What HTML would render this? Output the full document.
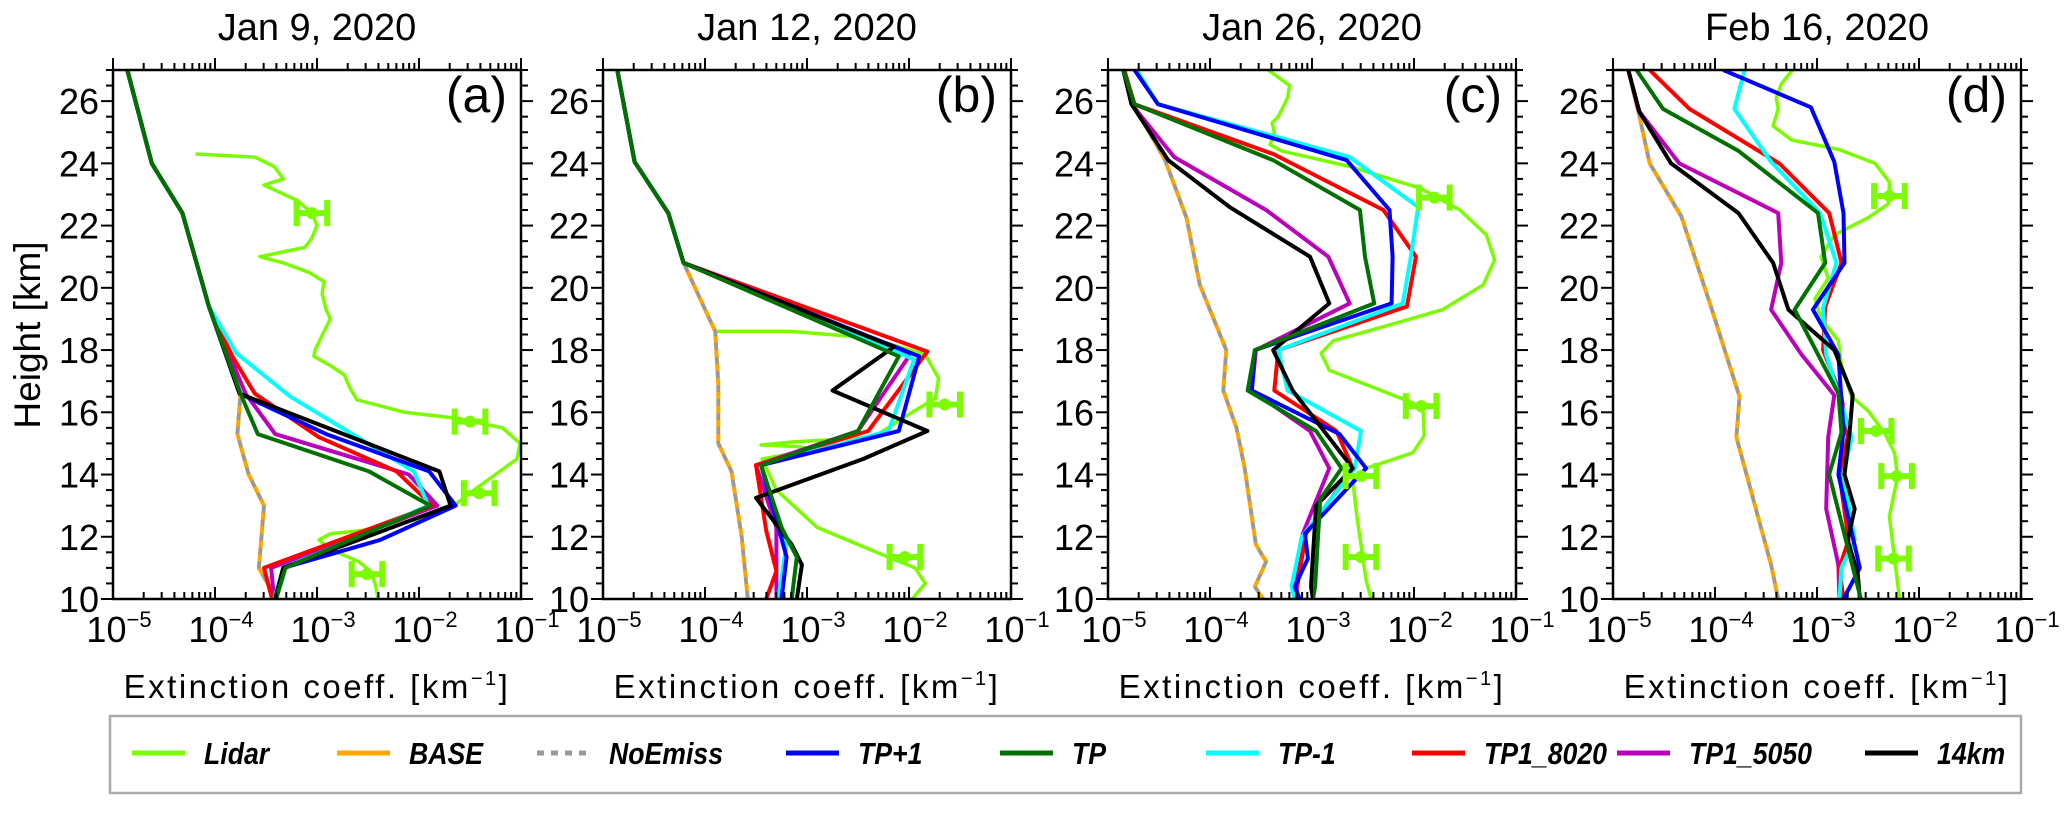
<!DOCTYPE html>
<html><head><meta charset="utf-8">
<style>
html,body{margin:0;padding:0;background:#fff;}
svg{display:block;font-family:"Liberation Sans",Arial,sans-serif;}
</style></head>
<body>
<svg id="chart" width="2067" height="813" viewBox="0 0 2067 813" xmlns="http://www.w3.org/2000/svg"></svg>
<script>
// ---- data (height km, log10 extinction) ----
const panelTitles = ["Jan 9, 2020","Jan 12, 2020","Jan 26, 2020","Feb 16, 2020"];
const panelLetters = ["(a)","(b)","(c)","(d)"];
const seriesNames = ["Lidar","BASE","NoEmiss","TP+1","TP","TP-1","TP1_8020","TP1_5050","14km"];
const seriesColors = ["#7cfc00","#ffa500","#999999","#0000ff","#007000","#00ffff","#ff0000","#bb00bb","#000000"];
const yTicks = [10,12,14,16,18,20,22,24,26];
const xTickExp = [-5,-4,-3,-2,-1];

const topA = [[27,-4.86],[24,-4.62],[22.4,-4.32],[19.4,-4.06]];
const lidarA = [[24.3,-4.19],[24.2,-3.61],[23.9,-3.42],[23.5,-3.33],[23.3,-3.52],[22.8,-3.19],[22.4,-3.05],[22,-3.0],[21.6,-3.05],[21.3,-3.12],[21.0,-3.56],[20.8,-3.33],[20.5,-3.08],[20.2,-2.93],[19.8,-2.95],[19.3,-2.91],[19.0,-2.87],[18.6,-2.93],[18.0,-3.02],[17.8,-3.03],[17.5,-2.87],[17.2,-2.73],[16.8,-2.68],[16.4,-2.61],[16.0,-2.14],[15.8,-1.61],[15.5,-1.18],[15.0,-1.01],[14.5,-1.04],[14.0,-1.25],[13.5,-1.46],[13.0,-1.66],[12.6,-1.96],[12.2,-2.56],[12.1,-2.87],[11.9,-2.98],[11.6,-2.87],[11.2,-2.59],[10.9,-2.48],[10.5,-2.43],[10,-2.40]];
const errA = [[22.4,-3.05],[15.7,-1.5],[13.4,-1.41],[10.8,-2.51]];
const baseA = topA.concat([[16.6,-3.75],[15.3,-3.78],[14.0,-3.67],[13.0,-3.52],[11.0,-3.57],[10,-3.40]]);
const tpp1A = topA.concat([[16.6,-3.76],[15.3,-2.91],[14.1,-1.90],[13.0,-1.64],[11.9,-2.38],[11.0,-3.33],[10,-3.41]]);
const tpA = topA.concat([[16.6,-3.75],[15.3,-3.58],[14.1,-2.49],[13.0,-1.89],[11.0,-3.31],[10,-3.40]]);
const tpm1A = topA.concat([[17.9,-3.79],[16.5,-3.26],[14.1,-2.05],[13.0,-1.91],[12.1,-2.52],[11.0,-3.33],[10,-3.42]]);
const t8020A = topA.concat([[17.8,-3.83],[16.6,-3.61],[15.2,-2.98],[14.1,-2.22],[13.0,-1.87],[11.0,-3.52],[10,-3.44]]);
const t5050A = topA.concat([[16.6,-3.70],[15.3,-3.41],[14.0,-2.10],[13.0,-1.82],[11.0,-3.45],[10,-3.42]]);
const km14A = topA.concat([[16.6,-3.76],[14.1,-1.80],[13.0,-1.69],[11.0,-3.33],[10,-3.41]]);

const topB = [[27,-4.86],[24.05,-4.69],[22.4,-4.36],[20.8,-4.21]];
const lidarB = [[18.6,-3.9],[18.6,-3.16],[18.4,-2.4],[17.85,-1.84],[17.1,-1.71],[16.45,-1.74],[16.0,-1.97],[15.2,-2.35],[15.05,-3.13],[14.95,-3.45],[14.9,-3.1],[14.8,-2.9],[14.7,-3.1],[14.5,-3.44],[13.5,-3.3],[12.3,-2.9],[11.45,-2.28],[11.0,-1.94],[10.5,-1.84],[10,-1.97]];
const errB = [[16.25,-1.65],[11.35,-2.04]];
const baseB = topB.concat([[18.6,-3.9],[16.9,-3.87],[15.0,-3.87],[14.1,-3.74],[12.0,-3.64],[10,-3.58]]);
const tpp1B = topB.concat([[17.8,-1.9],[15.4,-2.1],[14.3,-3.45],[11.35,-3.2],[10,-3.25]]);
const tpB = topB.concat([[17.8,-2.1],[15.4,-2.5],[14.3,-3.45],[12.3,-3.25],[11.35,-3.1],[10,-3.15]]);
const tpm1B = topB.concat([[17.7,-1.95],[15.4,-2.2],[14.3,-3.45],[11.8,-3.2],[10,-3.28]]);
const t8020B = topB.concat([[17.95,-1.82],[15.4,-2.4],[14.3,-3.5],[12.2,-3.4],[10.9,-3.3],[10,-3.4]]);
const t5050B = topB.concat([[17.8,-2.0],[15.4,-2.5],[14.3,-3.5],[12.3,-3.3],[10,-3.3]]);
const km14B = topB.concat([[18.1,-2.15],[16.7,-2.75],[15.4,-1.82],[14.5,-2.45],[13.25,-3.5],[11.75,-3.15],[11.1,-3.05],[10,-3.1]]);

const lidarC = [[27,-3.43],[26.5,-3.22],[26.1,-3.24],[25.5,-3.33],[25.3,-3.39],[25.0,-3.37],[24.6,-3.41],[24.4,-3.3],[23.9,-2.63],[23.2,-1.94],[22.5,-1.55],[21.7,-1.29],[20.9,-1.21],[20.1,-1.32],[19.3,-1.72],[18.75,-2.30],[18.3,-2.79],[17.9,-2.91],[17.35,-2.83],[16.8,-2.40],[16.3,-2.01],[16.0,-1.91],[15.25,-1.90],[14.7,-2.01],[14.2,-2.47],[13.8,-2.60],[12.65,-2.56],[11.3,-2.50],[10.6,-2.47],[10,-2.42]];
const errC = [[22.9,-1.80],[16.2,-1.93],[13.95,-2.52],[11.35,-2.52]];
const baseC = [[27,-4.85],[25.9,-4.75],[24.1,-4.44],[22.25,-4.23],[20.1,-4.10],[18.0,-3.84],[16.7,-3.87],[15.5,-3.74],[14.2,-3.66],[11.75,-3.55],[11.2,-3.45],[10.4,-3.56],[10,-3.48]];
const tpp1C = [[27,-4.74],[25.9,-4.51],[24.1,-2.66],[22.5,-2.24],[21.0,-2.21],[19.5,-2.22],[18.0,-3.56],[16.7,-3.59],[15.3,-2.73],[14.2,-2.47],[12.1,-3.07],[11.3,-3.04],[10.4,-3.17],[10,-3.12]];
const tpC = [[27,-4.85],[25.9,-4.74],[24.1,-3.38],[22.5,-2.53],[21.0,-2.48],[19.5,-2.39],[18.0,-3.56],[16.7,-3.63],[15.4,-2.96],[14.2,-2.71],[13.2,-2.92],[10.4,-2.97],[10,-2.99]];
const tpm1C = [[27,-4.72],[25.9,-4.51],[24.2,-2.63],[22.6,-1.96],[21.0,-2.03],[19.5,-2.11],[18.0,-3.33],[16.7,-3.24],[15.4,-2.52],[14.2,-2.58],[12.0,-3.10],[10.4,-3.20],[10,-3.17]];
const t8020C = [[27,-4.84],[25.9,-4.74],[24.3,-3.38],[22.5,-2.30],[21.0,-1.98],[19.4,-2.07],[18.0,-3.33],[16.7,-3.37],[15.4,-2.76],[14.2,-2.60],[12.1,-3.06],[10.3,-3.15],[10,-3.14]];
const t5050C = [[27,-4.85],[25.9,-4.77],[24.2,-4.35],[22.5,-3.45],[21.0,-2.84],[19.5,-2.63],[18.0,-3.55],[16.7,-3.59],[15.4,-3.02],[14.2,-2.83],[12.1,-3.09],[10.4,-3.17],[10,-3.14]];
const km14C = [[27,-4.85],[25.9,-4.77],[24.1,-4.41],[22.6,-3.81],[21.0,-3.02],[19.5,-2.83],[18.0,-3.38],[16.7,-3.19],[14.2,-2.60],[13.0,-2.96],[10.4,-3.01],[10,-2.99]];

const lidarD = [[27,-3.24],[26.55,-3.35],[26.1,-3.40],[25.75,-3.38],[25.2,-3.43],[24.75,-3.25],[24.45,-2.79],[24.0,-2.43],[23.4,-2.29],[22.7,-2.30],[22.25,-2.50],[21.7,-2.83],[21.0,-2.96],[20.3,-2.89],[19.65,-3.02],[19.0,-2.96],[18.3,-2.79],[17.5,-2.76],[16.5,-2.66],[16.05,-2.50],[15.35,-2.34],[14.7,-2.24],[13.95,-2.21],[12.65,-2.29],[11.3,-2.24],[10,-2.19]];
const errD = [[22.95,-2.29],[15.4,-2.42],[13.95,-2.22],[11.3,-2.25]];
const baseD = [[27,-4.85],[25.65,-4.75],[24.0,-4.64],[22.3,-4.33],[19.4,-4.04],[16.5,-3.76],[15.2,-3.79],[11.1,-3.45],[10,-3.38]];
const tpp1D = [[27,-3.92],[25.8,-3.06],[24.05,-2.83],[22.4,-2.74],[20.8,-2.73],[19.3,-3.04],[17.85,-2.79],[15.4,-2.74],[14.0,-2.79],[11.0,-2.58],[10,-2.74]];
const tpD = [[27,-4.77],[25.75,-4.51],[24.4,-3.77],[22.4,-2.99],[20.8,-2.92],[19.3,-3.22],[16.6,-2.79],[15.35,-2.76],[14.0,-2.88],[10,-2.57]];
const tpm1D = [[27,-3.71],[25.75,-3.81],[24.05,-3.45],[22.4,-2.97],[20.8,-2.81],[19.35,-2.94],[17.85,-2.91],[15.2,-2.66],[14.0,-2.74],[11.9,-2.63],[11.0,-2.76],[10,-2.78]];
const t8020D = [[27,-4.64],[25.75,-4.25],[24.0,-3.37],[22.4,-2.88],[20.8,-2.76],[19.4,-2.92],[18.0,-2.94],[16.5,-2.76],[15.2,-2.70],[14.0,-2.78],[11.9,-2.69],[11.0,-2.78],[10,-2.74]];
const t5050D = [[27,-4.85],[25.7,-4.75],[24.0,-4.35],[22.4,-3.38],[20.8,-3.35],[19.3,-3.45],[17.85,-3.15],[16.55,-2.83],[15.2,-2.89],[12.9,-2.91],[11.1,-2.79],[10,-2.78]];
const km14D = [[27,-4.85],[25.65,-4.74],[24.0,-4.43],[22.4,-3.77],[20.8,-3.43],[19.3,-3.28],[18.0,-2.83],[16.55,-2.65],[15.35,-2.68],[14.0,-2.73],[12.9,-2.63],[11.9,-2.70],[10.8,-2.60],[10,-2.58]];

const panelSeries = [
  [lidarA,baseA,baseA,tpp1A,tpA,tpm1A,t8020A,t5050A,km14A],
  [lidarB,baseB,baseB,tpp1B,tpB,tpm1B,t8020B,t5050B,km14B],
  [lidarC,baseC,baseC,tpp1C,tpC,tpm1C,t8020C,t5050C,km14C],
  [lidarD,baseD,baseD,tpp1D,tpD,tpm1D,t8020D,t5050D,km14D]
];
const panelErrors = [errA,errB,errC,errD];

// ---- layout ----
const NS = "http://www.w3.org/2000/svg";
const svg = document.getElementById('chart');
const lefts = [113,603,1108,1613];
const PW = 408, PT = 70, PH = 529;
const xMin = -5, xMax = -1, yMin = 10, yMax = 27;
function mk(tag, attrs, parent){const e=document.createElementNS(NS,tag);for(const k in attrs)e.setAttribute(k,attrs[k]);(parent||svg).appendChild(e);return e;}

panelTitles.forEach((title,p)=>{
  const L = lefts[p];
  const xs = v => L + (v - xMin)/(xMax - xMin)*PW;
  const ys = h => PT + (yMax - h)/(yMax - yMin)*PH;
  const g = mk('g',{});
  
  
  const clipId='clip'+p;
  const cp = mk('clipPath',{id:clipId},g);
  mk('rect',{x:L,y:PT,width:PW,height:PH},cp);
  const t = mk('text',{x:L+PW/2,y:40,'text-anchor':'middle','font-size':38},g);
  t.textContent = title;
  
  
  const lt = mk('text',{x:L+PW-14,y:112,'text-anchor':'end','font-size':50},g);
  lt.textContent = panelLetters[p];
  
  
  // series
  const sg = mk('g',{'clip-path':'url(#'+clipId+')'},g);
  const order=[0,1,2,7,6,5,3,8,4];
  order.forEach(si=>{
    const pts = panelSeries[p][si].map(d=>xs(d[1]).toFixed(1)+','+ys(d[0]).toFixed(1)).join(' ');
    const attrs={points:pts,fill:'none',stroke:seriesColors[si],'stroke-width':si===0?3.5:4,'stroke-linejoin':'round'};
    if(si===2){attrs['stroke-dasharray']='7,7';attrs['stroke-width']=3.5;}
    const pl = mk('polyline',attrs,sg);
    
    
  });
  // error bars
  panelErrors[p].forEach(e=>{
    const cx=xs(e[1]), cy=ys(e[0]), x1=xs(e[1]-0.15), x2=xs(e[1]+0.15);
    const eg=mk('g',{stroke:'#7cfc00','stroke-width':6,fill:'#7cfc00'},sg);
    
    
    mk('line',{x1:x1,y1:cy,x2:x2,y2:cy},eg);
    mk('line',{x1:x1,y1:cy-13,x2:x1,y2:cy+13},eg);
    mk('line',{x1:x2,y1:cy-13,x2:x2,y2:cy+13},eg);
    mk('circle',{cx:cx,cy:cy,r:6,stroke:'none'},eg);
  });
  // frame
  const fr = mk('rect',{x:L,y:PT,width:PW,height:PH,fill:'none',stroke:'#000','stroke-width':2.5},g);
  
  
  // x ticks
  const ax = mk('g',{stroke:'#000','stroke-width':2},g);
  
  
  for(let d=xMin; d<xMax; d++){
    for(let m=1;m<10;m++){
      const x = xs(d+Math.log10(m)); const len = m===1?12:7;
      mk('line',{x1:x,y1:PT+PH,x2:x,y2:PT+PH-len},ax);
      mk('line',{x1:x,y1:PT,x2:x,y2:PT-len},ax);
    }
  }
  mk('line',{x1:xs(xMax),y1:PT+PH,x2:xs(xMax),y2:PT+PH-12},ax);
  mk('line',{x1:xs(xMax),y1:PT,x2:xs(xMax),y2:PT-12},ax);
  xTickExp.forEach(ex=>{
    const tx = mk('text',{x:xs(ex)+6,y:642,'text-anchor':'middle','font-size':36,fill:'#000',stroke:'none'},g);
    
    
    const a=document.createElementNS(NS,'tspan'); a.textContent='10'; tx.appendChild(a);
    const b=document.createElementNS(NS,'tspan'); b.setAttribute('font-size','22'); b.setAttribute('dy','-15'); b.textContent='\u2212'+(-ex); tx.appendChild(b);
  });
  const xl = mk('text',{x:L+PW/2,y:698,'text-anchor':'middle','font-size':33,'letter-spacing':'2.5'},g);
  
  
  xl.appendChild(document.createTextNode('Extinction coeff. [km'));
  const sp=document.createElementNS(NS,'tspan'); sp.setAttribute('font-size','20'); sp.setAttribute('dy','-13'); sp.textContent='\u22121'; xl.appendChild(sp);
  const sp2=document.createElementNS(NS,'tspan'); sp2.setAttribute('dy','13'); sp2.textContent=']'; xl.appendChild(sp2);
  // y ticks
  const ay = mk('g',{stroke:'#000','stroke-width':2},g);
  
  
  for(let h=yMin; h<=yMax; h+=0.5){
    const y=ys(h); const len = (h%2===0)?12:7;
    mk('line',{x1:L,y1:y,x2:L-len,y2:y},ay);
    mk('line',{x1:L+PW,y1:y,x2:L+PW+len,y2:y},ay);
  }
  yTicks.forEach(v=>{
    const ty = mk('text',{x:L-14,y:ys(v)+13,'text-anchor':'end','font-size':36},g);
    ty.textContent = v;
    
    
  });
});
const yt = mk('text',{x:0,y:0,'text-anchor':'middle','font-size':37,transform:'translate(40,335) rotate(-90)'});
yt.textContent='Height [km]';



// legend
const lg = mk('g',{});


mk('rect',{x:110,y:716,width:1911,height:77,fill:'#fff',stroke:'#aaa','stroke-width':2.5},lg);
const legX = [132,337,537,786,1000,1206,1412,1617,1865];
seriesNames.forEach((n,i)=>{
  const eg = mk('g',{},lg);
  
  
  const la={x1:legX[i],y1:753,x2:legX[i]+53,y2:753,stroke:seriesColors[i],'stroke-width':5};
  if(i===2) la['stroke-dasharray']='7,7';
  mk('line',la,eg);
  const tx0 = legX[i]+72;
  const t=mk('text',{x:0,y:0,'font-size':31,'font-weight':'bold','font-style':'italic',transform:'translate('+tx0+',764) scale(0.86,1)'},eg);
  t.textContent=n;
});
</script>
</body></html>
